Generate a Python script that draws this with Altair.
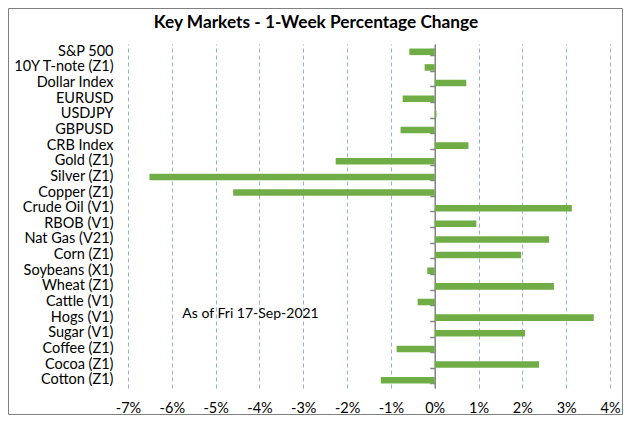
import altair as alt
import pandas as pd

categories = [
    "S&P 500", "10Y T-note (Z1)", "Dollar Index", "EURUSD", "USDJPY", "GBPUSD",
    "CRB Index", "Gold (Z1)", "Silver (Z1)", "Copper (Z1)", "Crude Oil (V1)",
    "RBOB (V1)", "Nat Gas (V21)", "Corn (Z1)", "Soybeans (X1)", "Wheat (Z1)",
    "Cattle (V1)", "Hogs (V1)", "Sugar (V1)", "Coffee (Z1)", "Cocoa (Z1)", "Cotton (Z1)",
]
values = [
    -0.58, -0.23, 0.72, -0.73, 0.04, -0.78,
    0.77, -2.26, -6.51, -4.60, 3.13,
    0.95, 2.61, 1.97, -0.17, 2.72,
    -0.39, 3.63, 2.06, -0.87, 2.38, -1.23,
]
x_ticks = [-7, -6, -5, -4, -3, -2, -1, 0, 1, 2, 3, 4]
title_text = "Key Markets - 1-Week Percentage Change"
note_text = "As of Fri 17-Sep-2021"
note_x = -5.76
note_row = "Hogs (V1)"

FONT = "Lato"
W, H = 482, 344
PAD_L, PAD_T, PAD_R, PAD_B = 120, 36, 13, 27

df = pd.DataFrame({"market": categories, "change": values})

xscale = alt.Scale(domain=[-7, 4], nice=False, zero=False)
yscale = alt.Scale(domain=categories, paddingInner=0.58, paddingOuter=0.29)

bars = alt.Chart(df).mark_bar(color="#70AD47").encode(
    x=alt.X("change:Q", scale=xscale,
            axis=alt.Axis(values=x_ticks, labelExpr="datum.value + '%'", title=None,
                          grid=True, gridColor="#8DB3E2", gridDash=[4, 3], gridWidth=1,
                          domain=False, ticks=False, labelFont=FONT, labelFontSize=14.5,
                          labelColor="#000000", labelPadding=13, labelFlush=False,
                          labelOverlap=False)),
    y=alt.Y("market:N", scale=yscale, sort=categories,
            axis=alt.Axis(title=None, orient="left", domain=False, ticks=False, grid=False,
                          labelFont=FONT, labelFontSize=14.5, labelColor="#000000",
                          labelPadding=15, labelLimit=200)),
)

zero_axis = alt.Chart(df).mark_bar(opacity=0).encode(
    x=alt.X("change:Q", scale=xscale),
    y=alt.Y("market:N", scale=yscale, sort=categories,
            axis=alt.Axis(title=None, orient="left", labels=False, grid=False,
                          domain=True, domainColor="#868686", domainWidth=1.5,
                          ticks=True, tickColor="#868686", tickWidth=1.5, tickSize=5,
                          tickBand="extent", offset=-(W * 7 / 11))),
)

note = alt.Chart(pd.DataFrame({"x": [note_x], "y": [note_row], "t": [note_text]})).mark_text(
    align="left", baseline="middle", font=FONT, fontSize=14, color="#000000", dy=-4
).encode(
    x=alt.X("x:Q", scale=xscale),
    y=alt.Y("y:N", scale=yscale, sort=categories, axis=None),
    text="t:N",
)

title = alt.Chart(pd.DataFrame({"t": [title_text]})).mark_text(
    align="center", baseline="middle", font=FONT, fontSize=17.3, fontWeight="bold", color="#000000"
).encode(
    x=alt.value(316 - 8 - PAD_L), y=alt.value(23 - 8 - PAD_T), text="t:N",
)

frame = alt.Chart(pd.DataFrame({"a": [0]})).mark_rect(
    fill=None, stroke="#808080", strokeWidth=1
).encode(
    x=alt.value(-PAD_L + 0.5), x2=alt.value(W + PAD_R - 0.5),
    y=alt.value(-PAD_T + 0.5), y2=alt.value(H + PAD_B - 0.5),
)

chart = alt.layer(bars, zero_axis, note, title, frame).resolve_axis(y="independent").properties(
    width=W, height=H,
    autosize=alt.AutoSizeParams(type="none"),
    padding={"left": PAD_L, "top": PAD_T, "right": PAD_R, "bottom": PAD_B},
).configure_view(stroke=None)

chart.save("out.html", embed_options={"renderer": "svg", "actions": False})
